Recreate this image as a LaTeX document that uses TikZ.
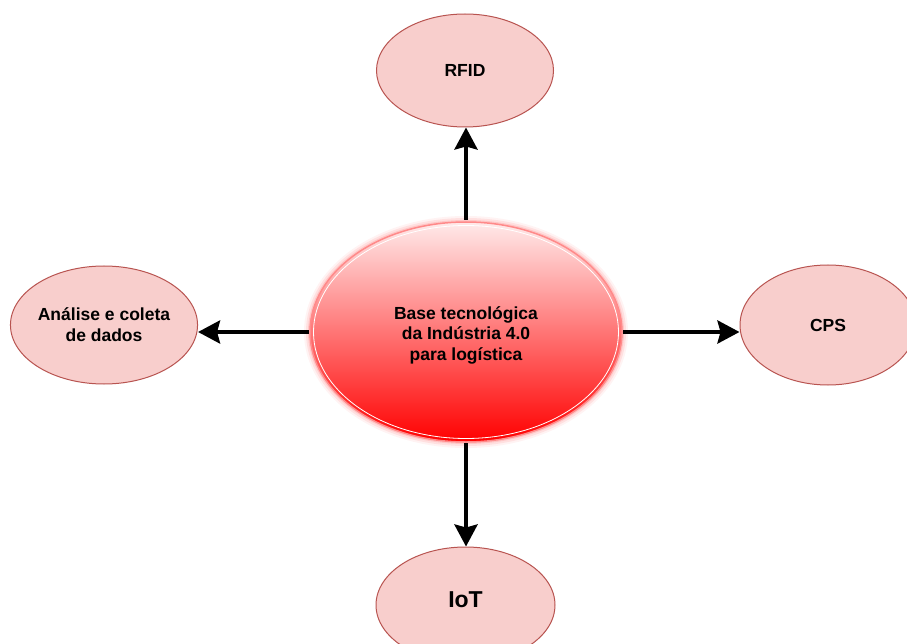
\documentclass[tikz,border=0pt]{standalone}
\usepackage{fontspec}
\setmainfont{Liberation Sans}
\usetikzlibrary{shapes.geometric,arrows.meta}
\definecolor{leaffill}{HTML}{F8CECC}
\definecolor{leafdraw}{HTML}{B85450}
\definecolor{hubtop}{HTML}{FFEAEA}
\definecolor{hubbottom}{HTML}{FF0000}
\definecolor{hubedge}{HTML}{FF8A8A}
\tikzset{
  leaf/.style={ellipse, fill=leaffill, draw=leafdraw, line width=1pt,
    font=\fontsize{17.5}{21}\selectfont\bfseries, align=center, inner sep=0pt},
  link/.style={line width=4pt, -{Stealth[length=22pt, width=23pt, inset=3pt]}},
}
\begin{document}
\begin{tikzpicture}[x=1pt, y=-1pt]
\useasboundingbox (0,0) rectangle (907,644);
\fill[white] (0,0) rectangle (907,644);

% soft glow around the hub
\foreach \g/\o in {6/0.10, 4/0.18, 2/0.30}
  \fill[hubedge, opacity=\o] (466,332) ellipse ({156+\g} and {110+\g});

% central hub
\node[ellipse, minimum width=312pt, minimum height=220pt, inner sep=0pt,
      top color=hubtop, bottom color=hubbottom, draw=hubedge, line width=1.5pt]
      (hub) at (466,332) {};
\draw[white, line width=0.8pt] (466,332) ellipse (152.5 and 106.5);
\node[font=\fontsize{17.5}{20.5}\selectfont\bfseries, align=center] (hubtext) at (466,335)
  {Base tecnológica\\da Indústria 4.0\\ para logística};

% surrounding concepts
\node[leaf, minimum width=177pt, minimum height=113pt] (rfid) at (465,70.5) {RFID};
\node[leaf, minimum width=178pt, minimum height=118pt] (dados) at (104,325) {Análise e coleta\\de dados};
\node[leaf, minimum width=176pt, minimum height=120pt] (cps) at (828,325) {CPS};
\node[leaf, minimum width=179pt, minimum height=116pt] (iot) at (465.5,605) {};
\node[font=\fontsize{23}{26}\selectfont\bfseries] (iotlabel) at (465.5,600) {IoT};

% connectors
\coordinate (hubN) at (466,220);
\coordinate (hubW) at (309,332);
\coordinate (hubE) at (623,332);
\coordinate (hubS) at (466,443);
\draw[link] (hubN) -- (hubN |- rfid.south);
\draw[link] (hubW) -- (dados.east |- hubW);
\draw[link] (hubE) -- (cps.west |- hubE);
\draw[link] (hubS) -- (hubS |- iot.north);
\end{tikzpicture}
\end{document}
